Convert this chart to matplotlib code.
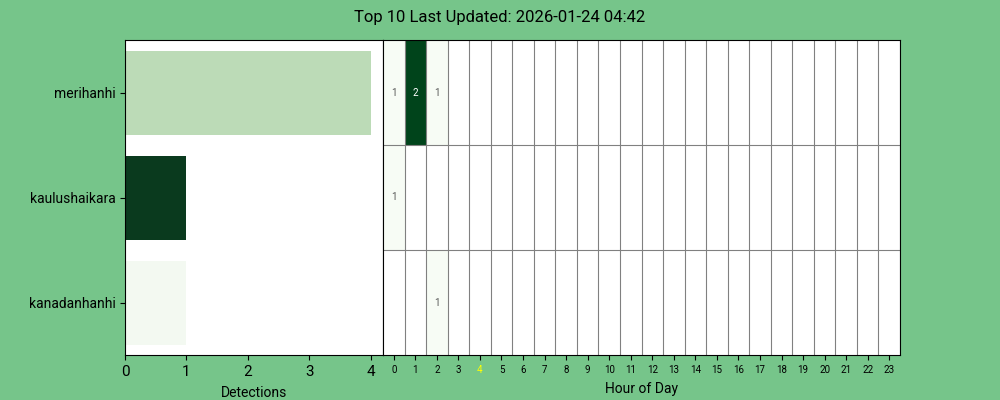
import numpy as np
import matplotlib
matplotlib.use("Agg")
import matplotlib.pyplot as plt
from matplotlib.colors import Normalize

plt.rcParams['font.family'] = ['Roboto', 'DejaVu Sans']

species = ["merihanhi", "kaulushaikara", "kanadanhanhi"]
detections = [4, 1, 1]
bar_colors = ["#bcdbb7", "#0a3a1e", "#f3f9f1"]
hours = list(range(24))
hourly_merihanhi = [1, 2, 1] + [0] * 21
hourly_kaulushaikara = [1] + [0] * 23
hourly_kanadanhanhi = [0, 0, 1] + [0] * 21
current_hour = 4
title = "Top 10 Last Updated: 2026-01-24 04:42"

bg = "#76c58a"
fig = plt.figure(figsize=(10, 4), dpi=100, facecolor=bg)

ax1 = fig.add_axes([0.125, 0.1125, 0.258, 0.7875])
ax2 = fig.add_axes([0.383, 0.1125, 0.517, 0.7875])

y = np.arange(len(species))[::-1]
ax1.barh(y, detections, height=0.8, color=bar_colors)
ax1.set_ylim(-0.5, 2.5)
ax1.set_yticks(y)
ax1.set_yticklabels(species, fontsize=10)
ax1.set_xlabel("Detections", fontsize=10, labelpad=5)
ax1.tick_params(axis='x', labelsize=11)
ax1.set_xticks([0, 1, 2, 3, 4])

data = np.array([hourly_merihanhi, hourly_kaulushaikara, hourly_kanadanhanhi], dtype=float)
masked = np.ma.masked_where(data == 0, data)
cmap = plt.get_cmap("Greens").copy()
cmap.set_bad("white")
ax2.set_facecolor("white")
ax2.pcolormesh(np.arange(25) - 0.5, np.arange(4) - 0.5, masked, cmap=cmap,
               norm=Normalize(vmin=1, vmax=2), edgecolors="none")
for xv in np.arange(24) + 0.5:
    ax2.axvline(xv, color="gray", linewidth=0.8)
for yv in [0.5, 1.5]:
    ax2.axhline(yv, color="gray", linewidth=0.8)
ax2.set_xlim(-0.5, 23.5)
ax2.set_ylim(2.5, -0.5)
ax2.set_yticks([])
ax2.set_xticks(hours)
ax2.set_xticklabels([str(h) for h in hours], fontsize=7)
for lbl in ax2.get_xticklabels():
    if lbl.get_text() == str(current_hour):
        lbl.set_color("#ffff00")
ax2.set_xlabel("Hour of Day", fontsize=10, labelpad=5)
for i in range(data.shape[0]):
    for j in range(data.shape[1]):
        v = data[i, j]
        if v > 0:
            ax2.text(j, i, f"{int(v)}", ha="center", va="center", fontsize=7,
                     color="white" if v >= 2 else "#555555")

fig.suptitle(title, fontsize=12, y=0.975)
fig.savefig("out.png", facecolor=bg)
